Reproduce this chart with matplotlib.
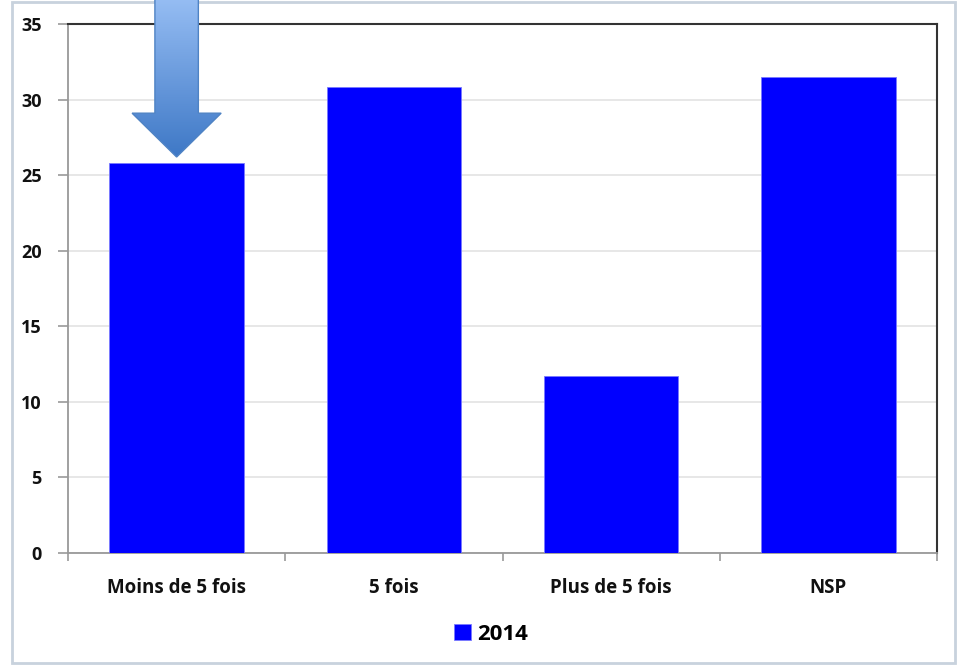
import matplotlib
matplotlib.use("Agg")
import matplotlib.pyplot as plt
import numpy as np
from matplotlib.patches import Polygon, Rectangle
from matplotlib.colors import LinearSegmentedColormap

categories = ["Moins de 5 fois", "5 fois", "Plus de 5 fois", "NSP"]
values_2014 = [25.8, 30.8, 11.7, 31.5]
series_label = "2014"
yticks = [0, 5, 10, 15, 20, 25, 30, 35]

plt.rcParams['font.family'] = ['Open Sans', 'DejaVu Sans']

fig = plt.figure(figsize=(9.63, 6.65), dpi=100)
ax = fig.add_axes([68/963, 112/665, (937-68)/963, (553-24)/665])

x = np.arange(len(categories))
ax.bar(x, values_2014, width=0.62, color="#0000FF", edgecolor="#7A7AFF",
       linewidth=0.6, zorder=3, label=series_label)

ax.set_xlim(-0.5, len(categories) - 0.5)
ax.set_ylim(0, 35)
ax.set_yticks(yticks)
ax.set_yticklabels([str(t) for t in yticks], fontsize=13, fontweight='bold')
ax.yaxis.grid(True, color="#E3E3E3", linewidth=1.2, zorder=0)
ax.set_axisbelow(True)

ax.set_xticks(x)
ax.set_xticklabels(categories, fontsize=13.5, fontweight='bold')
ax.set_xticks(np.arange(-0.5, len(categories), 1.0), minor=True)
ax.tick_params(axis='x', which='major', length=0, pad=18)
ax.tick_params(axis='x', which='minor', length=6, color="#999999", width=1.2, direction='out')
ax.tick_params(axis='y', length=7, color="#999999", width=1.2, pad=12)
for lab in ax.get_xticklabels() + ax.get_yticklabels():
    lab.set_color("#111111")

for s in ['left', 'bottom']:
    ax.spines[s].set_color("#999999")
    ax.spines[s].set_linewidth(1.3)
for s in ['top', 'right']:
    ax.spines[s].set_color("#333333")
    ax.spines[s].set_linewidth(1.5)

# decorative arrow pointing at first bar (drawn on a full-figure overlay)
hw_shaft = 0.1
hw_head = 0.205
y_top = 37.5
y_neck = 29.1
y_tip = 26.2
cx = x[0]
pts_data = np.array([(cx - hw_shaft, y_top), (cx + hw_shaft, y_top), (cx + hw_shaft, y_neck),
                     (cx + hw_head, y_neck), (cx, y_tip), (cx - hw_head, y_neck),
                     (cx - hw_shaft, y_neck)])
fig.canvas.draw()
to_fig = ax.transData + fig.transFigure.inverted()
pts_fig = to_fig.transform(pts_data)
ov = fig.add_axes([0, 0, 1, 1], zorder=5)
ov.set_xlim(0, 1)
ov.set_ylim(0, 1)
ov.axis('off')
ov.patch.set_alpha(0)
poly = Polygon(pts_fig, closed=True, facecolor='none', edgecolor="#4F83C4",
               linewidth=1.0, zorder=10)
ov.add_patch(poly)
cmap = LinearSegmentedColormap.from_list("arr", ["#3E78C6", "#9DC3F7"])
grad = np.linspace(0, 1, 256).reshape(-1, 1)
x0, x1 = pts_fig[:, 0].min(), pts_fig[:, 0].max()
y0, y1 = pts_fig[:, 1].min(), pts_fig[:, 1].max()
im = ov.imshow(grad, cmap=cmap, origin='lower', aspect='auto',
               extent=[x0, x1, y0, y1], zorder=9)
im.set_clip_path(poly)
ov.set_xlim(0, 1)
ov.set_ylim(0, 1)

# legend
leg = fig.legend(loc='center', bbox_to_anchor=(491/963, 1 - 634/665), frameon=False,
                 prop={'size': 16, 'weight': 'bold'}, handlelength=0.75,
                 handleheight=0.75, handletextpad=0.3)

# figure border
fig.patches.append(Rectangle((12/963, 2/665), (955-12)/963, (663-2)/665,
                             transform=fig.transFigure, fill=False,
                             edgecolor="#C8D2DD", linewidth=2, zorder=0))

fig.savefig("out.png", dpi=100)
